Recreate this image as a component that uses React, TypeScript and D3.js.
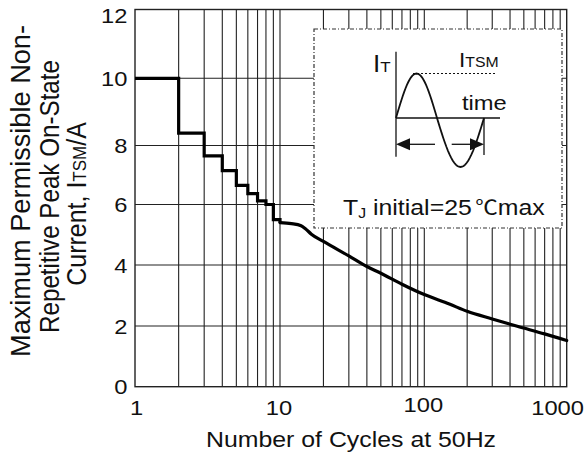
import React from 'react';
import * as d3 from 'd3';

// ---- data ----
const xTickValues = [1, 10, 100, 1000];
const xTickLabels = ['1', '10', '100', '1000'];
const yTickValues = [0, 2, 4, 6, 8, 10, 12];
const yTickLabels = ['0', '2', '4', '6', '8', '10', '12'];
const xGridValues = [
  2, 3, 4, 5, 6, 7, 8, 9, 10,
  20, 30, 40, 50, 60, 70, 80, 90, 100,
  200, 300, 400, 500, 600, 700, 800, 900,
];
const yGridValues = [2, 4, 6, 8, 10];

// stepped part (1..10 cycles)
const stepCycles = [1, 2, 3, 4, 5, 6, 7, 8, 9, 10];
const stepCurrent = [10, 8.37, 7.65, 7.15, 6.65, 6.37, 6.12, 6.0, 5.5, 5.4];
// smooth part (10..1000 cycles)
const smoothCycles = [10, 12, 14, 15, 16.5, 20, 30, 40, 50, 70, 100, 150, 200, 300, 450, 700, 1000];
const smoothCurrent = [5.4, 5.37, 5.3, 5.2, 5.02, 4.78, 4.3, 3.95, 3.73, 3.37, 3.03, 2.72, 2.48, 2.23, 1.99, 1.74, 1.52];

const yLabelLines = ['Maximum Permissible  Non-', 'Repetitive Peak On-State'];
const xLabel = 'Number of Cycles at 50Hz';

const W = 587;
const H = 459;
const SX = 1.13; // horizontal stretch of the original artwork's text
const FONT = "'Liberation Sans', Arial, Helvetica, sans-serif";

function HText(props: {
  x: number; y: number; size: number; anchor?: string; children: React.ReactNode;
}) {
  const { x, y, size, anchor = 'start', children } = props;
  return (
    <text
      transform={`translate(${x},${y}) scale(${SX},1)`}
      textAnchor={anchor}
      fontSize={size}
      fontFamily={FONT}
      fill="#111"
    >
      {children}
    </text>
  );
}

export default function App() {
  const left = 135;
  const right = 566.7;
  const top = 9.5;
  const bottom = 386.7;

  const x = d3.scaleLog().domain([1, 10, 100, 1000]).range([left, 280, 424.3, right]);
  const y = d3
    .scaleLinear()
    .domain(yTickValues)
    .range([bottom, 326, 265, 204.5, 145.5, 78.3, top]);

  const stepData = stepCycles.map((c, i) => [c, stepCurrent[i]] as [number, number]);
  const smoothData = smoothCycles.map((c, i) => [c, smoothCurrent[i]] as [number, number]);

  const stepLine = d3
    .line<[number, number]>()
    .x((d) => x(d[0]))
    .y((d) => y(d[1]))
    .curve(d3.curveStepAfter);
  const smoothLine = d3
    .line<[number, number]>()
    .x((d) => x(d[0]))
    .y((d) => y(d[1]))
    .curve(d3.curveMonotoneX);

  // inset box
  const ib = { x: 314, y: 29, w: 248, h: 199 };
  // inset waveform (schematic)
  const ax0 = 396; // waveform start x
  const ay0 = 118; // time axis y
  const wavePts: [number, number][] = [];
  const half1 = 41, half2 = 47, amp1 = 44.5, amp2 = 49;
  for (let i = 0; i <= 30; i++) {
    const t = i / 30;
    wavePts.push([ax0 + t * half1, ay0 - amp1 * Math.sin(Math.PI * t)]);
  }
  for (let i = 1; i <= 30; i++) {
    const t = i / 30;
    wavePts.push([ax0 + half1 + t * half2, ay0 + amp2 * Math.sin(Math.PI * t)]);
  }
  const wavePath = d3.line<[number, number]>().curve(d3.curveLinear)(wavePts) || '';
  const arrowY = 144.3;
  const arrowEnd = ax0 + half1 + half2;

  const xLabelPos = (i: number) => {
    if (i === xTickValues.length - 1) return { x: 584, anchor: 'end' };
    if (i === 0) return { x: x(xTickValues[i]) + 1.5, anchor: 'middle' };
    return { x: x(xTickValues[i]) - 1, anchor: 'middle' };
  };

  const yTitle = (bx: number, cy: number) => `translate(${bx},${cy}) scale(1.1,1) rotate(-90)`;

  return (
    <svg
      width={W}
      height={H}
      style={{ position: 'absolute', left: 0, top: 0, background: '#fff' }}
    >
      <rect x={0} y={0} width={W} height={H} fill="#fff" />

      {/* grid */}
      <g stroke="#222" strokeWidth={1.1}>
        {xGridValues.map((v) => (
          <line key={'gx' + v} x1={x(v)} x2={x(v)} y1={top} y2={bottom} />
        ))}
        {yGridValues.map((v) => (
          <line key={'gy' + v} x1={left} x2={right} y1={y(v)} y2={y(v)} />
        ))}
      </g>
      {/* frame */}
      <rect
        x={left}
        y={top}
        width={right - left}
        height={bottom - top}
        fill="none"
        stroke="#222"
        strokeWidth={1.4}
      />

      {/* inset */}
      <rect
        x={ib.x}
        y={ib.y}
        width={ib.w}
        height={ib.h}
        fill="#fff"
        stroke="#333"
        strokeWidth={1.2}
        strokeDasharray="4,2,1,2"
      />
      <g stroke="#111" fill="none">
        <line x1={ax0} x2={ax0} y1={51.7} y2={156.7} strokeWidth={1.3} />
        <line x1={ax0} x2={500} y1={ay0} y2={ay0} strokeWidth={1.3} />
        <line x1={413} x2={497} y1={ay0 - amp1} y2={ay0 - amp1} strokeWidth={1.2} strokeDasharray="2,2" />
        <path d={wavePath} strokeWidth={1.8} />
        <line x1={arrowEnd} x2={arrowEnd} y1={ay0} y2={155} strokeWidth={1.3} />
        <line x1={ax0 + 12} x2={435} y1={arrowY} y2={arrowY} strokeWidth={1.3} />
        <line x1={451.7} x2={arrowEnd - 12} y1={arrowY} y2={arrowY} strokeWidth={1.3} />
      </g>
      <path
        d={`M${ax0},${arrowY} L${ax0 + 14},${arrowY - 6} L${ax0 + 14},${arrowY + 6} Z`}
        fill="#111"
      />
      <path
        d={`M${arrowEnd},${arrowY} L${arrowEnd - 14},${arrowY - 6} L${arrowEnd - 14},${arrowY + 6} Z`}
        fill="#111"
      />
      <HText x={373} y={72} size={23}>
        I<tspan fontSize={15}>T</tspan>
      </HText>
      <HText x={459} y={67} size={20}>
        I<tspan fontSize={14}>TSM</tspan>
      </HText>
      <HText x={462} y={110} size={21}>
        time
      </HText>
      <HText x={343} y={215} size={22}>
        T<tspan fontSize={14} dy={3}>J</tspan>
        <tspan dy={-3}> initial=25</tspan>
        <tspan dx={3} fontFamily="'Noto Sans CJK SC', 'DejaVu Sans', sans-serif" fontSize={20}>℃</tspan>
        <tspan>max</tspan>
      </HText>

      {/* curve */}
      <path d={stepLine(stepData) || ''} fill="none" stroke="#000" strokeWidth={3.2} strokeLinejoin="miter" />
      <path d={smoothLine(smoothData) || ''} fill="none" stroke="#000" strokeWidth={3.2} strokeLinecap="round" />

      {/* y tick labels */}
      {yTickValues.map((v, i) => (
        <HText key={'yl' + v} x={127.5} y={Math.max(y(v), 15.5) + 7.5} size={21} anchor="end">
          {yTickLabels[i]}
        </HText>
      ))}
      {/* x tick labels */}
      {xTickValues.map((v, i) => {
        const p = xLabelPos(i);
        return (
          <HText key={'xl' + v} x={p.x} y={v === 100 ? 412 : 415} size={21} anchor={p.anchor}>
            {xTickLabels[i]}
          </HText>
        );
      })}

      {/* axis titles */}
      <HText x={351} y={447} size={22} anchor="middle">
        {xLabel}
      </HText>
      <g fontFamily={FONT} fontSize={25} fill="#111" textAnchor="middle">
        <text transform={yTitle(29.5, 191)} textLength={332} lengthAdjust="spacingAndGlyphs">
          {yLabelLines[0]}
        </text>
        <text transform={yTitle(58.5, 196.5)} textLength={273} lengthAdjust="spacingAndGlyphs">
          {yLabelLines[1]}
        </text>
        <text transform={yTitle(86, 204)}>
          Current, I<tspan fontSize={17}>TSM</tspan>/A
        </text>
      </g>
    </svg>
  );
}
